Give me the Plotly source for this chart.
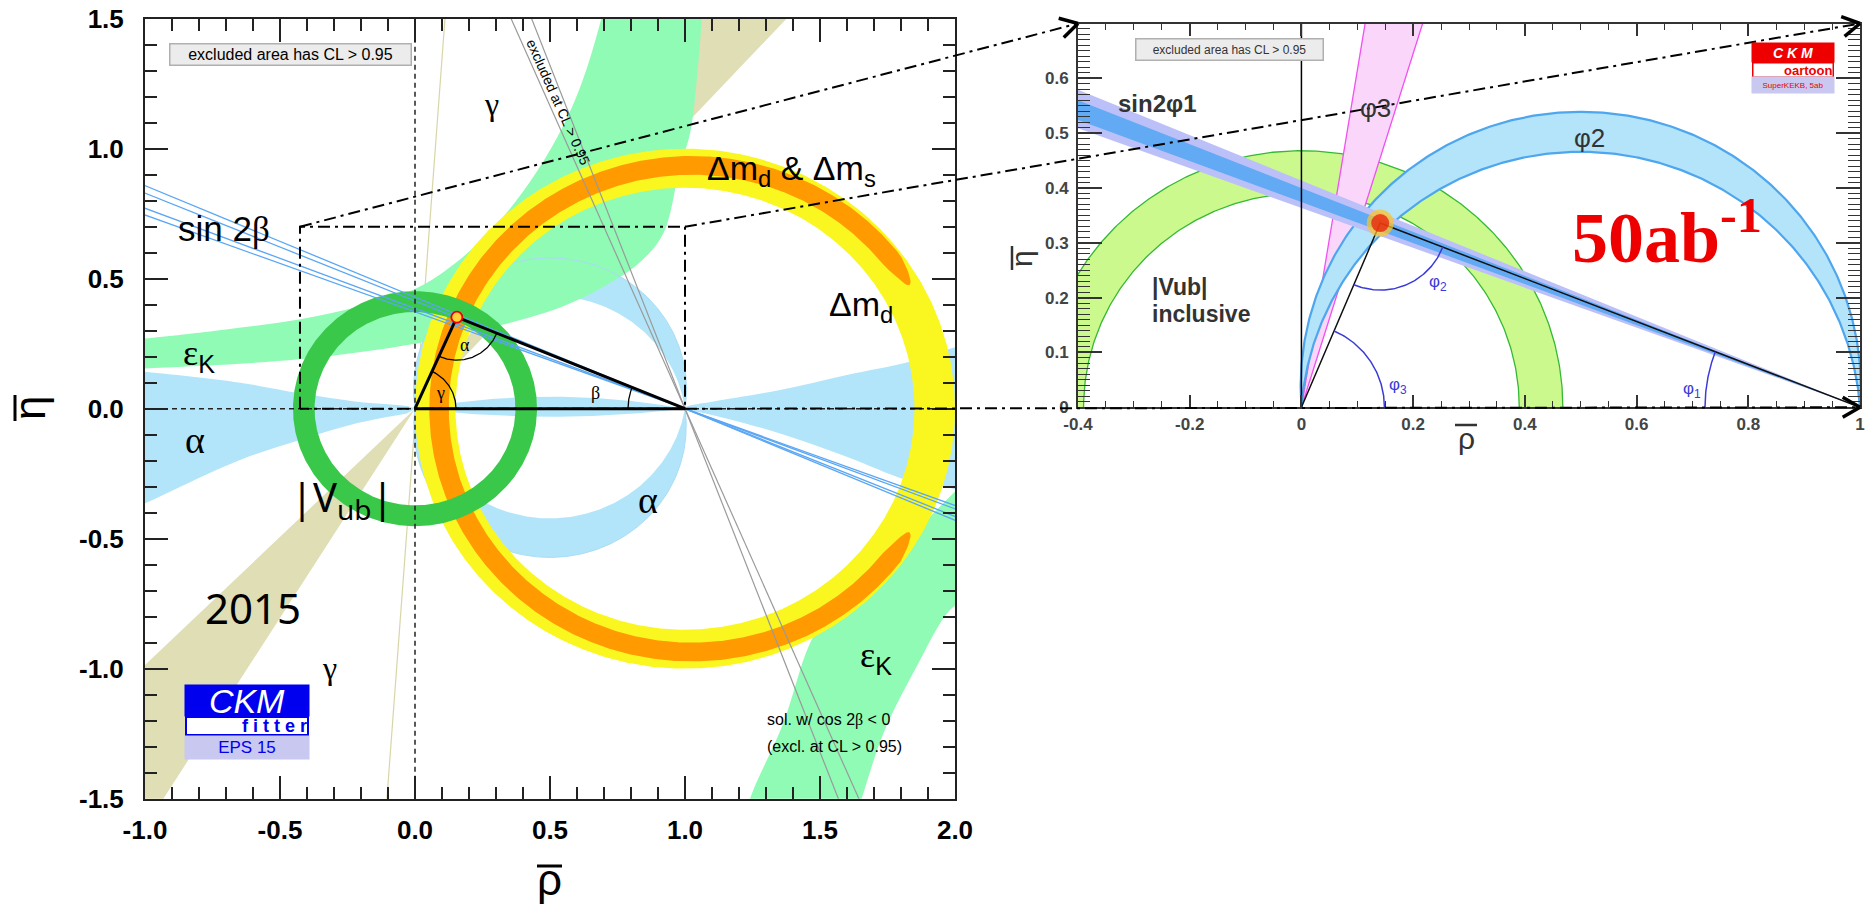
import numpy as np
import plotly.graph_objects as go

W, H = 1872, 905

# ===================== DATA =====================
# ---- left panel (CKMfitter, EPS 2015) : rho_bar / eta_bar ----
L_RHO_RANGE = [-1.0, 2.0]
L_ETA_RANGE = [-1.5, 1.5]
L_XTICKS = [-1.0, -0.5, 0.0, 0.5, 1.0, 1.5, 2.0]
L_YTICKS = [-1.5, -1.0, -0.5, 0.0, 0.5, 1.0, 1.5]

APEX_L = [0.155, 0.352]
VUB_CENTER = [0.0, 0.0]
VUB_RADII = [0.372, 0.452]
DMD_CENTER = [1.0, 0.0]
DMD_RADII = [0.85, 1.0]
DMS_CENTER = [1.025, 0.0]
DMS_RADII = [0.90, 0.972]
DMS_ANGLES = [30.5, 329.5]

# alpha: crescents through (0,0)-(1,0), given by the height of their apex (sagitta)
ALPHA_UP_SAG = [0.435, 0.58]
ALPHA_DN_SAG = [-0.422, -0.572]
ALPHA_AXIS_SAG = [0.046, -0.031]
# alpha wedges along the real axis (boundary read point by point)
ALPHA_LW_RHO = [0.0, -0.03, -0.216, -0.426, -0.648, -1.0, -1.1, -1.1, -1.0, -0.648, -0.426, -0.216, -0.03]
ALPHA_LW_ETA = [0.0, 0.010, 0.027, 0.059, 0.100, 0.142, 0.150, -0.41, -0.364, -0.197, -0.12, -0.056, -0.018]
ALPHA_RW_RHO = [1.0, 1.006, 1.10, 1.352, 1.599, 1.833, 2.006, 2.1, 2.1, 2.0, 1.821, 1.599, 1.352, 1.10, 1.006]
ALPHA_RW_ETA = [0.0, 0.008, 0.027, 0.072, 0.13, 0.181, 0.238, 0.262, -0.36, -0.31, -0.274, -0.185, -0.095, -0.024, -0.006]

# epsilon_K hyperbola, upper branch (upper-left edge then lower-right edge)
EK_UP_RHO = [-1.1, -1.0, -0.7, -0.43, -0.2, 0.0, 0.15, 0.32, 0.45, 0.55, 0.62, 0.69, 0.73,
             1.07, 1.062, 1.048, 1.019, 0.981, 0.92, 0.83, 0.70, 0.54, 0.35, 0.2, 0.0, -0.43, -1.0, -1.1]
EK_UP_ETA = [0.262, 0.270, 0.305, 0.343, 0.395, 0.46, 0.56, 0.73, 0.91, 1.09, 1.26, 1.50, 1.68,
             1.68, 1.5, 1.315, 1.06, 0.93, 0.675, 0.56, 0.47, 0.39, 0.33, 0.295, 0.25, 0.19, 0.155, 0.150]
# lower branch
EK_DN_RHO = [1.22, 1.241, 1.364, 1.463, 1.549, 1.648, 1.796, 1.92, 2.08, 2.08, 1.981, 1.858, 1.735, 1.654, 1.62]
EK_DN_ETA = [-1.6, -1.5, -1.21, -0.902, -0.762, -0.646, -0.543, -0.402, -0.27, -0.70, -0.774, -0.992, -1.248, -1.5, -1.6]

# gamma wedge: edge points read at the frame border
GAMMA_UP_EDGE_RHO = [1.062, 1.376]   # at eta = +1.5
GAMMA_UP_EDGE_ETA = [1.5, 1.5]
GAMMA_DN_EDGE_RHO = [-0.932, -1.0]
GAMMA_DN_EDGE_ETA = [-1.5, -0.986]
GAMMA_LINE_RHO = [-0.104, 0.111]
GAMMA_LINE_ETA = [-1.5, 1.5]

# sin 2beta lines (through (1,0)), eta read at rho = -1
SIN2B_ETA_AT_M1 = [0.858, 0.829, 0.771, 0.745]
# cos2beta<0 exclusion lines (through (1,0)), rho read at eta = +1.5
EXCL_RHO_AT_TOP = [0.356, 0.432]
# dash-dot zoom box
ZOOM_BOX_RHO = [-0.426, 1.0]
ZOOM_BOX_ETA = [0.0, 0.7]

# ---- right panel (CKM oartoon, 50 ab^-1) ----
R_RHO_RANGE = [-0.4, 1.0]
R_ETA_RANGE = [0.0, 0.7]
R_XTICKS = [-0.4, -0.2, 0.0, 0.2, 0.4, 0.6, 0.8, 1.0]
R_XTICKTEXT = ['-0.4', '-0.2', '0', '0.2', '0.4', '0.6', '0.8', '1']
R_YTICKS = [0.0, 0.1, 0.2, 0.3, 0.4, 0.5, 0.6]
R_YTICKTEXT = ['0', '0.1', '0.2', '0.3', '0.4', '0.5', '0.6']

APEX_R = [0.141, 0.336]
VUB_R_RADII = [0.39, 0.468]
PHI2_SAG = [0.466, 0.539]
SIN2PHI1_CORE_ETA = [0.524, 0.560]   # at rho = -0.4
SIN2PHI1_HALO_ETA = [0.509, 0.579]   # at rho = -0.4
PHI3_TOP_RHO = [0.114, 0.217]        # at eta = 0.7

# ===================== LAYOUT GEOMETRY =====================
LF = (145.0, 18.7, 955.0, 798.7)   # x0, ytop, x1, ybottom (pixels)
RF = (1078.0, 23.5, 1860.0, 407.3)


def scales(frame, xr, yr):
    x0, yt, x1, yb = frame
    return (x1 - x0) / (xr[1] - xr[0]), (yb - yt) / (yr[1] - yr[0])


def d2px(frame, xr, yr, x, y):
    x0, yt, x1, yb = frame
    sx, sy = scales(frame, xr, yr)
    return x0 + (np.asarray(x, float) - xr[0]) * sx, yb - (np.asarray(y, float) - yr[0]) * sy


def px2d(frame, xr, yr, px, py):
    x0, yt, x1, yb = frame
    sx, sy = scales(frame, xr, yr)
    return xr[0] + (np.asarray(px, float) - x0) / sx, yr[0] + (yb - np.asarray(py, float)) / sy


def dom(frame):
    x0, yt, x1, yb = frame
    return [x0 / W, x1 / W], [1 - yb / H, 1 - yt / H]


def ring(cx, cy, rin, rout, t0=0.0, t1=360.0, taper=0.0, n=720):
    t = np.linspace(t0, t1, n)
    ro = np.full(n, rout)
    ri = np.full(n, rin)
    if taper > 0:
        d = np.minimum(t - t0, t1 - t)
        g = np.sqrt(np.clip(d / taper, 0, 1))
        rm = 0.5 * (rin + rout)
        ro = rm + (rout - rm) * g
        ri = rm - (rm - rin) * g
    tr = np.radians(t)
    xo, yo = cx + ro * np.cos(tr), cy + ro * np.sin(tr)
    xi, yi = cx + ri * np.cos(tr), cy + ri * np.sin(tr)
    return np.concatenate([xo, xi[::-1], xo[:1]]), np.concatenate([yo, yi[::-1], yo[:1]])


def sag_arc(h, n=400):
    s = np.sign(h)
    a = abs(h)
    R = (0.25 + a * a) / (2 * a)
    cy = a - R
    a0 = np.arctan2(-cy, -0.5) % (2 * np.pi)
    a1 = np.arctan2(-cy, 0.5)
    t = np.linspace(a0, a1, n)
    return 0.5 + R * np.cos(t), s * (cy + R * np.sin(t))


def crescent(h1, h2):
    x1, y1 = sag_arc(h1)
    x2, y2 = sag_arc(h2)
    return np.concatenate([x1, x2[::-1]]), np.concatenate([y1, y2[::-1]])


def angle_arc(frame, xr, yr, vertex, p1, p2, rpx, n=80):
    vx, vy = d2px(frame, xr, yr, vertex[0], vertex[1])
    ax, ay = d2px(frame, xr, yr, p1[0], p1[1])
    bx, by = d2px(frame, xr, yr, p2[0], p2[1])
    a1 = np.arctan2(ay - vy, ax - vx)
    a2 = np.arctan2(by - vy, bx - vx)
    if a2 - a1 > np.pi:
        a2 -= 2 * np.pi
    if a1 - a2 > np.pi:
        a2 += 2 * np.pi
    t = np.linspace(a1, a2, n)
    return px2d(frame, xr, yr, vx + rpx * np.cos(t), vy + rpx * np.sin(t))


fig = go.Figure()
L = dict(xaxis='x', yaxis='y')
R = dict(xaxis='x2', yaxis='y2')


def fill(x, y, color, ax, shape='linear', name=''):
    fig.add_trace(go.Scatter(x=x, y=y, mode='lines', fill='toself', fillcolor=color,
                             line=dict(width=0, shape=shape, smoothing=1.0), hoverinfo='skip',
                             showlegend=False, name=name, **ax))


def line(x, y, color, width, ax, dash='solid', shape='linear'):
    fig.add_trace(go.Scatter(x=x, y=y, mode='lines', line=dict(color=color, width=width, dash=dash, shape=shape),
                             hoverinfo='skip', showlegend=False, **ax))


KHAKI = '#dfdeb5'
LBLUE = '#b3e5fa'
MINT = '#8ffbb5'
YELLOW = '#f9f71f'
ORANGE = '#ff9a00'
GREEN = '#3ac84b'
DASHDOT = '12px,5px,3px,5px'

# ---------------- left panel ----------------
Rbig = 4.0
gu = np.arctan2(GAMMA_UP_EDGE_ETA, GAMMA_UP_EDGE_RHO)
gd = np.arctan2(GAMMA_DN_EDGE_ETA, GAMMA_DN_EDGE_RHO)
for ang in (gu, gd):
    fill([0, Rbig * np.cos(ang[0]), Rbig * np.cos(ang[1]), 0],
         [0, Rbig * np.sin(ang[0]), Rbig * np.sin(ang[1]), 0], KHAKI, L)
line(GAMMA_LINE_RHO, GAMMA_LINE_ETA, '#d8d6a8', 1.2, L)

fill(ALPHA_LW_RHO, ALPHA_LW_ETA, LBLUE, L, shape='spline')
fill(ALPHA_RW_RHO, ALPHA_RW_ETA, LBLUE, L, shape='spline')
for pair in (ALPHA_UP_SAG, ALPHA_DN_SAG, ALPHA_AXIS_SAG):
    cx_, cy_ = crescent(pair[0], pair[1])
    fill(cx_, cy_, LBLUE, L)

fill(EK_UP_RHO, EK_UP_ETA, MINT, L, shape='spline')
fill(EK_DN_RHO, EK_DN_ETA, MINT, L, shape='spline')

for h in (ALPHA_UP_SAG[1], ALPHA_DN_SAG[1]):
    ax_, ay_ = sag_arc(h)
    line(ax_, ay_, '#a9dcf4', 1.0, L)

x_, y_ = ring(DMD_CENTER[0], DMD_CENTER[1], DMD_RADII[0], DMD_RADII[1])
fill(x_, y_, YELLOW, L)
x_, y_ = ring(DMS_CENTER[0], DMS_CENTER[1], DMS_RADII[0], DMS_RADII[1], DMS_ANGLES[0], DMS_ANGLES[1], taper=7)
fill(x_, y_, ORANGE, L)

x_, y_ = ring(VUB_CENTER[0], VUB_CENTER[1], VUB_RADII[0], VUB_RADII[1], 200, 560)
fill(x_, y_, GREEN, L)

for rt in EXCL_RHO_AT_TOP:
    slope = 1.5 / (rt - 1.0)
    ee = np.array([1.7, -1.7])
    line(1.0 + ee / slope, ee, '#9a9a9a', 1.2, L)

for e in SIN2B_ETA_AT_M1:
    slope = -e / 2.0
    rr = np.array([-1.1, 2.1])
    line(rr, slope * (rr - 1.0), '#5aa6f4', 1.3, L)

line([0, 0], L_ETA_RANGE, '#222222', 1.5, L, dash='5px,4px')
line(L_RHO_RANGE, [0, 0], '#222222', 1.5, L, dash='5px,4px')
line([ZOOM_BOX_RHO[0], ZOOM_BOX_RHO[0], ZOOM_BOX_RHO[1], ZOOM_BOX_RHO[1], ZOOM_BOX_RHO[0]],
     [ZOOM_BOX_ETA[0], ZOOM_BOX_ETA[1], ZOOM_BOX_ETA[1], ZOOM_BOX_ETA[0], ZOOM_BOX_ETA[0]], 'black', 2, L, dash=DASHDOT)

line([0, APEX_L[0], 1, 0], [0, APEX_L[1], 0, 0], 'black', 3, L)
for vert, p1, p2, rp in ((APEX_L, (1, 0), (0, 0), 43), ((0, 0), (1, 0), APEX_L, 41), ((1, 0), (0, 0), APEX_L, 57)):
    ax_, ay_ = angle_arc(LF, L_RHO_RANGE, L_ETA_RANGE, vert, p1, p2, rp)
    line(ax_, ay_, 'black', 1.3, L)
fig.add_trace(go.Scatter(x=[APEX_L[0]], y=[APEX_L[1]], mode='markers',
                         marker=dict(size=11, color='#ffd23a', line=dict(color='#ee0000', width=1.8)),
                         hoverinfo='skip', showlegend=False, **L))

# ---------------- right panel ----------------
x_, y_ = ring(0, 0, VUB_R_RADII[0], VUB_R_RADII[1], 0, 180)
fill(x_, y_, '#cbf98e', R)
for r_ in VUB_R_RADII:
    t = np.radians(np.linspace(0, 180, 300))
    line(r_ * np.cos(t), r_ * np.sin(t), '#35b935', 1.3, R)

k = 1.3
fill([0, PHI3_TOP_RHO[0] * k, PHI3_TOP_RHO[1] * k, 0], [0, 0.7 * k, 0.7 * k, 0], '#fad7fa', R)
for rt in PHI3_TOP_RHO:
    line([0, rt * k], [0, 0.7 * k], '#f050f0', 1.3, R)

cx_, cy_ = crescent(PHI2_SAG[0], PHI2_SAG[1])
fill(cx_, cy_, '#b3e4fa', R)
for h in PHI2_SAG:
    ax_, ay_ = sag_arc(h)
    line(ax_, ay_, '#4ea6ee', 2.2, R)

f = 1.5 / 1.4
fill([1, -0.5, -0.5, 1], [0, SIN2PHI1_HALO_ETA[1] * f, SIN2PHI1_HALO_ETA[0] * f, 0], '#bcc0f8', R)
fill([1, -0.5, -0.5, 1], [0, SIN2PHI1_CORE_ETA[1] * f, SIN2PHI1_CORE_ETA[0] * f, 0], '#62aaf4', R)

line([0, 0], [0, 0.7], 'black', 1.5, R)
line([0, APEX_R[0], 1], [0, APEX_R[1], 0], '#111111', 1.5, R)
for vert, p1, p2, rp in ((APEX_R, (1, 0), (0, 0), 67), ((0, 0), (1, 0), APEX_R, 83), ((1, 0), (0, 0), APEX_R, 155)):
    ax_, ay_ = angle_arc(RF, R_RHO_RANGE, R_ETA_RANGE, vert, p1, p2, rp)
    line(ax_, ay_, '#3a3ad8', 1.5, R)
fig.add_trace(go.Scatter(x=[APEX_R[0]] * 2, y=[APEX_R[1]] * 2, mode='markers',
                         marker=dict(size=[27, 18], color=['#ffc41e', '#ee1100'], line=dict(width=0)),
                         hoverinfo='skip', showlegend=False, **R))

# ---------------- annotations ----------------
ANN = []
SER = 'Liberation Serif'
SANS = 'Liberation Sans'


def ann(text, x, y, ax='1', size=20, color='black', family=SANS, xa='center', ya='middle', **kw):
    xr, yr = ('x', 'y') if ax == '1' else (('x2', 'y2') if ax == '2' else ('paper', 'paper'))
    ANN.append(dict(text=text, x=x, y=y, xref=xr, yref=yr, showarrow=False, xanchor=xa, yanchor=ya,
                    font=dict(size=size, color=color, family=family), **kw))


def g(s):
    return "<span style='font-family:Liberation Serif'>%s</span>" % s


ann('excluded area has CL &gt; 0.95', -0.461, 1.364, size=16, bgcolor='#ececec', bordercolor='#b0b0b0',
    borderwidth=1.5, width=240, height=20, borderpad=0)
ann(g('γ'), 0.285, 1.172, size=32, family=SER)
ann(g('γ'), -0.315, -0.997, size=32, family=SER)
ann('sin 2' + g('β'), -0.707, 0.69, size=35)
ann(g('ε') + '<sub>K</sub>', -0.865, 0.205, size=36, xa='left')
ann(g('α'), -0.815, -0.12, size=38, family=SER)
ann('|V<sub>ub</sub>|', -0.267, -0.345, size=40, family='Noto Sans')
ann('2015', -0.6, -0.763, size=42, family='Noto Sans')
ann(g('α'), 0.863, -0.352, size=38, family=SER)
ann('Δm<sub>d</sub> &amp; Δm<sub>s</sub>', 1.074, 0.915, size=34, xa='left')
ann('Δm<sub>d</sub>', 1.526, 0.395, size=34, xa='left')
ann(g('ε') + '<sub>K</sub>', 1.641, -0.955, size=36, xa='left')
ann('sol. w/ cos 2' + g('β') + ' &lt; 0', 1.296, -1.198, size=16, xa='left')
ann('(excl. at CL &gt; 0.95)', 1.296, -1.298, size=16, xa='left')
ann('excluded at CL &gt; 0.95', 0.530, 1.179, size=14, textangle=66)
ann(g('α'), 0.185, 0.245, size=18, family=SER)
ann(g('γ'), 0.093, 0.062, size=18, family=SER)
ann(g('β'), 0.667, 0.062, size=18, family=SER)
ann('<i>CKM</i>', -0.622, -1.122, size=34, color='white', bgcolor='#0000ee', width=124, height=31, borderpad=0)
ann('<b>f i t t e r</b>', -0.622, -1.222, size=18, color='#0000ee', bgcolor='white', bordercolor='#0000ee',
    borderwidth=2, width=120, height=16, borderpad=0, align='right')
ann('EPS 15', -0.622, -1.303, size=17, color='#0000ee', bgcolor='#c8c8f0', width=124, height=23, borderpad=0)

ann('<b>sin2φ1</b>', -0.2585, 0.555, ax='2', size=24, color='#333333')
ann('φ3', 0.132, 0.546, ax='2', size=26, color='#333333')
ann('φ2', 0.516, 0.491, ax='2', size=26, color='#333333')
ann('<b>|Vub|</b>', -0.271, 0.219, ax='2', size=23, color='#333333', xa='left')
ann('<b>inclusive</b>', -0.271, 0.170, ax='2', size=23, color='#333333', xa='left')
ann('<b>50ab<sup>-1</sup></b>', 0.655, 0.318, ax='2', size=72, color='#ee0000', family=SER)
ann('φ<sub>2</sub>', 0.245, 0.227, ax='2', size=17, color='#3a3ad8')
ann('φ<sub>3</sub>', 0.173, 0.039, ax='2', size=17, color='#3a3ad8')
ann('φ<sub>1</sub>', 0.699, 0.032, ax='2', size=17, color='#3a3ad8')
ann('excluded area has CL &gt; 0.95', -0.128, 0.653, ax='2', size=12, color='#333333', bgcolor='#ececec',
    bordercolor='#b0b0b0', borderwidth=1.5, width=186, height=20, borderpad=0)
ann('<b><i>C K M</i></b>', 0.880, 0.648, ax='2', size=14, color='white', bgcolor='#ee0000', width=82, height=19,
    borderpad=0)
ann('<b>oartoon</b>', 0.880, 0.616, ax='2', size=13, color='#ee0000', bgcolor='white', bordercolor='#ee0000',
    borderwidth=1.5, width=79, height=13, borderpad=0, align='right')
ann('SuperKEKB, 5ab', 0.880, 0.588, ax='2', size=8, color='#ee0000', bgcolor='#c8c8f0', width=82, height=16,
    borderpad=0)

SHAPES = []
ann('η', 29 / W, 1 - 408 / H, ax='p', size=44, textangle=-90)
ann('ρ', 549 / W, 1 - 879 / H, ax='p', size=44)
ann('η', 1021 / W, 1 - 258 / H, ax='p', size=30, color='#333333', textangle=-90)
ann('ρ', 1466 / W, 1 - 438 / H, ax='p', size=30, color='#333333')
for (bx0, by0, bx1, by1, bw, bc) in ((15, 395, 15, 421, 3, 'black'), (537, 866, 562, 866, 3, 'black'),
                                     (1012, 246, 1012, 270, 2.5, '#333333'), (1455, 425, 1477, 425, 2.5, '#333333')):
    SHAPES.append(dict(type='line', xref='paper', yref='paper', x0=bx0 / W, y0=1 - by0 / H, x1=bx1 / W,
                       y1=1 - by1 / H, line=dict(color=bc, width=bw)))

conns = [((ZOOM_BOX_RHO[0], ZOOM_BOX_ETA[1]), (R_RHO_RANGE[0], R_ETA_RANGE[1])),
         ((ZOOM_BOX_RHO[1], ZOOM_BOX_ETA[1]), (R_RHO_RANGE[1], R_ETA_RANGE[1])),
         ((ZOOM_BOX_RHO[1], ZOOM_BOX_ETA[0]), (R_RHO_RANGE[1], R_ETA_RANGE[0]))]
for (a, b) in conns:
    sx, sy = d2px(LF, L_RHO_RANGE, L_ETA_RANGE, a[0], a[1])
    ex, ey = d2px(RF, R_RHO_RANGE, R_ETA_RANGE, b[0], b[1])
    SHAPES.append(dict(type='line', xref='paper', yref='paper', x0=float(sx) / W, y0=1 - float(sy) / H,
                       x1=float(ex) / W, y1=1 - float(ey) / H, line=dict(color='black', width=2, dash=DASHDOT)))
    d = np.array([ex - sx, ey - sy], float)
    d /= np.hypot(*d)
    for s_ in (1, -1):
        th = np.radians(30) * s_
        rx = d[0] * np.cos(th) - d[1] * np.sin(th)
        ry = d[0] * np.sin(th) + d[1] * np.cos(th)
        SHAPES.append(dict(type='line', xref='paper', yref='paper', x0=float(ex) / W, y0=1 - float(ey) / H,
                           x1=float(ex - 20 * rx) / W, y1=1 - float(ey - 20 * ry) / H,
                           line=dict(color='black', width=3.5)))

ldx, ldy = dom(LF)
rdx, rdy = dom(RF)
tickfont_l = dict(family=SANS, size=26, color='black', weight='bold')
tickfont_r = dict(family=SANS, size=17, color='#444444', weight='bold')


def minor_vals(lo, hi, step):
    n = int(round((hi - lo) / step))
    return [round(lo + i * step, 4) for i in range(n + 1)]


common = dict(showgrid=False, zeroline=False, showline=True, ticks='inside', mirror='allticks', automargin=False)
fig.update_layout(
    width=W, height=H, margin=dict(l=0, r=0, t=0, b=0, pad=0, autoexpand=False),
    paper_bgcolor='white', plot_bgcolor='white', showlegend=False,
    xaxis=dict(domain=ldx, range=L_RHO_RANGE, anchor='y', tickvals=L_XTICKS,
               ticktext=['%.1f' % v for v in L_XTICKS], ticklen=23, tickwidth=1.5, tickcolor='#222',
               linecolor='#222', linewidth=2, tickfont=tickfont_l, ticklabelstandoff=7,
               minor=dict(tickvals=minor_vals(-1, 2, 0.1), ticklen=12, tickwidth=1.5, tickcolor='#222',
                          ticks='inside'), **common),
    yaxis=dict(domain=ldy, range=L_ETA_RANGE, anchor='x', tickvals=L_YTICKS,
               ticktext=['%.1f' % v for v in L_YTICKS], ticklen=23, tickwidth=1.5, tickcolor='#222',
               linecolor='#222', linewidth=2, tickfont=tickfont_l, ticklabelstandoff=14,
               minor=dict(tickvals=minor_vals(-1.5, 1.5, 0.1), ticklen=12, tickwidth=1.5, tickcolor='#222',
                          ticks='inside'), **common),
    xaxis2=dict(domain=rdx, range=R_RHO_RANGE, anchor='y2', tickvals=R_XTICKS, ticktext=R_XTICKTEXT,
                ticklen=12, tickwidth=1.5, tickcolor='#333', linecolor='#333', linewidth=2, tickfont=tickfont_r,
                ticklabelstandoff=0,
                minor=dict(tickvals=minor_vals(-0.4, 1.0, 0.05), ticklen=6, tickwidth=1.2, tickcolor='#333',
                           ticks='inside'), **common),
    yaxis2=dict(domain=rdy, range=R_ETA_RANGE, anchor='x2', tickvals=R_YTICKS, ticktext=R_YTICKTEXT,
                ticklen=24, tickwidth=1.5, tickcolor='#333', linecolor='#333', linewidth=2, tickfont=tickfont_r,
                ticklabelstandoff=4,
                minor=dict(tickvals=minor_vals(0, 0.7, 0.01), ticklen=12, tickwidth=1.2, tickcolor='#333',
                           ticks='inside'), **common),
    annotations=ANN, shapes=SHAPES,
)

fig.write_html('out.html', config={'displayModeBar': False},
               post_script="document.body.style.margin='0';document.body.style.overflow='hidden';")
